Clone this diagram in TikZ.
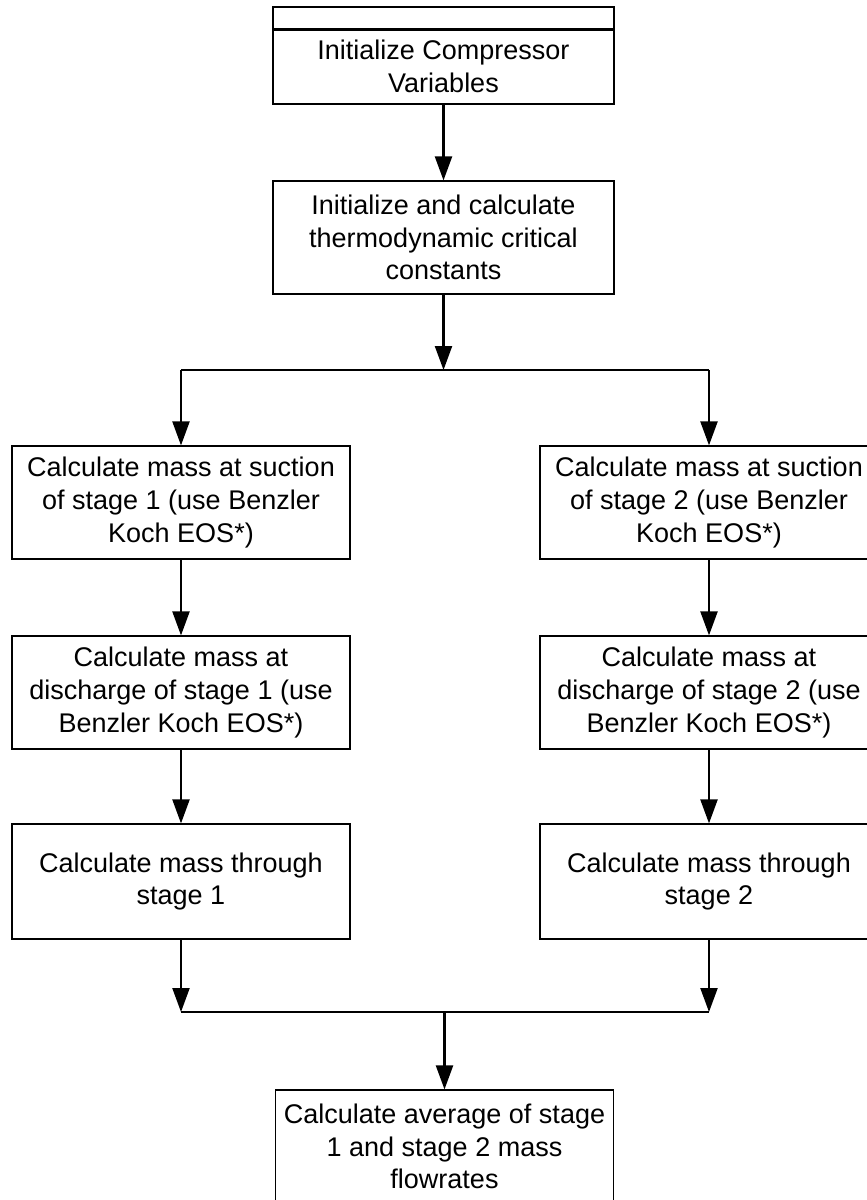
\documentclass[tikz,border=0pt]{standalone}
\usepackage{fontspec}
\setmainfont{Liberation Sans}
\usetikzlibrary{arrows.meta}

\tikzset{
	stepbox/.style={draw, line width=0.6pt, align=center, minimum width=169pt, minimum height=56.5pt, inner sep=1pt, font=\fontsize{13.5}{16.4}\selectfont},
	flow/.style={line width=1.1pt, -{Triangle[length=12pt,width=8.5pt]}}
}

\begin{document}
\begin{tikzpicture}[x=0.5pt, y=-0.5pt]
		\useasboundingbox (0, 0) rectangle (867, 1200);
		\node[stepbox, minimum width=170.5pt, minimum height=11.5pt] (inithead) at (443.5, 18.5) {};
		\node[stepbox, minimum width=170.5pt, minimum height=37.5pt] (initbox) at (443.5, 66.5) {Initialize Compressor\\Variables};
		\node[stepbox, minimum width=170.5pt] (calc) at (443.5, 237.5) {Initialize and calculate\\thermodynamic critical\\constants};
		\foreach \s/\x in {1/181, 2/709}{
			\node[stepbox] (suc\s) at (\x, 502.5) {Calculate mass at suction\\of stage \s\ (use Benzler\\Koch EOS*)};
			\node[stepbox] (dis\s) at (\x, 692.5) {Calculate mass at\\discharge of stage \s\ (use\\Benzler Koch EOS*)};
			\node[stepbox, minimum height=57.5pt] (thr\s) at (\x, 881.5) {Calculate mass through\\stage \s};
		}
		\node[stepbox] (avg) at (444.5, 1146.5) {Calculate average of stage\\1 and stage 2 mass\\flowrates};
		\coordinate (fork) at (443.5, 370);
		\coordinate (merge) at (444.5, 1012);
		\draw[flow] (initbox) -- (calc);
		\draw[flow] (calc) -- (fork);
		\draw[line width=1.1pt] (suc1 |- fork) -- (suc2 |- fork);
		\foreach \s in {1, 2}{
			\draw[flow] (suc\s |- fork) -- (suc\s);
			\draw[flow] (suc\s) -- (dis\s);
			\draw[flow] (dis\s) -- (thr\s);
			\draw[flow] (thr\s) -- (thr\s |- merge);
		}
		\draw[line width=1.1pt] (thr1 |- merge) -- (thr2 |- merge);
		\draw[flow] (merge) -- (avg);
	\end{tikzpicture}
\end{document}
